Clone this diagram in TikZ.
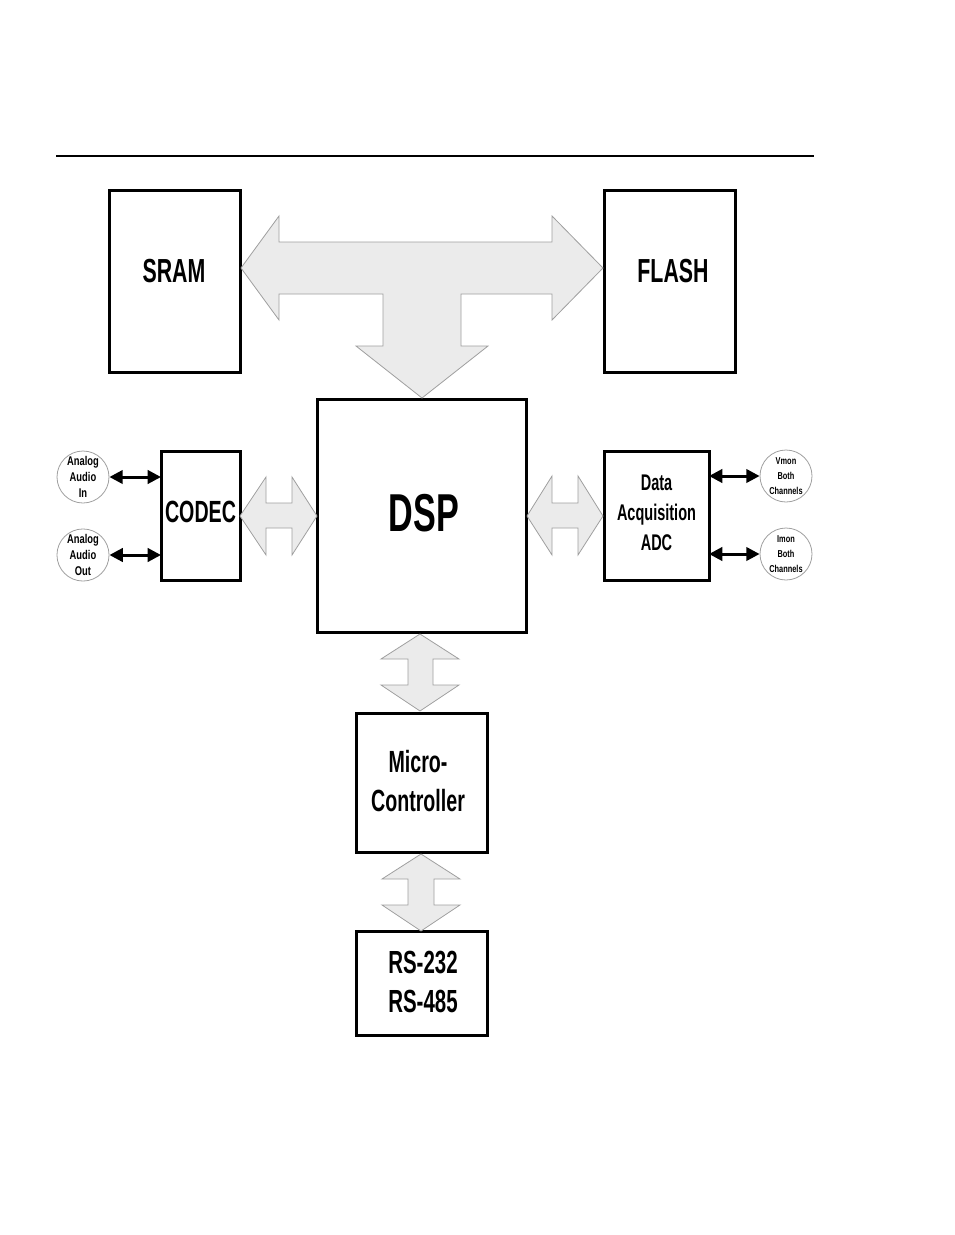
\documentclass[tikz,border=0pt]{standalone}
\usepackage{fontspec}
\usetikzlibrary{arrows.meta,calc}
\newfontfamily\cond{Liberation Sans}[FakeStretch=0.64]
\newfontfamily\condsmall{Liberation Sans}[FakeStretch=0.74]
\begin{document}
\begin{tikzpicture}[x=0.75pt,y=-0.75pt,
  box/.style={draw, line width=2.25pt, rectangle, inner sep=0pt, outer sep=0pt},
  lbl/.style={font=\cond\bfseries, align=center, inner sep=0pt},
  circ/.style={circle, draw=gray!75, line width=0.6pt, minimum size=39pt, inner sep=0pt, align=center},
  garrow/.style={fill=gray!16, draw=gray!75, line width=0.6pt, line join=miter},
  barrow/.style={{Triangle[length=10pt,width=10pt]}-{Triangle[length=10pt,width=10pt]}, line width=2.25pt}
]
\useasboundingbox (0,0) rectangle (954,1235);
% header rule
\coordinate (rl) at (56,156);
\coordinate (rr) at (814,156);
\draw[line width=0.8pt] (rl) -- (rr);

% boxes
\node[box, minimum width=98.25pt, minimum height=136.5pt] (sram) at (174.5,281) {};
\node[box, minimum width=98.25pt, minimum height=136.5pt] (flash) at (669.5,281) {};
\node[box, minimum width=156.75pt, minimum height=174.75pt] (dsp) at (421.5,515.5) {};
\node[box, minimum width=59.25pt, minimum height=96.75pt] (codec) at (200.5,515.5) {};
\node[box, minimum width=78.75pt, minimum height=96.75pt] (adc) at (656.5,515.5) {};
\node[box, minimum width=98.25pt, minimum height=104.25pt] (micro) at (421.5,782.5) {};
\node[box, minimum width=98.25pt, minimum height=78pt] (rs) at (421.5,983) {};

% labels
\node[lbl, font=\cond\bfseries\fontsize{25}{30}\selectfont] (tsram) at (174,271) {SRAM};
\node[lbl, font=\cond\bfseries\fontsize{25}{30}\selectfont] (tflash) at (673,271) {FLASH};
\node[lbl, font=\cond\bfseries\fontsize{40}{48}\selectfont] (tdsp) at (424,513) {DSP};
\node[lbl, font=\cond\bfseries\fontsize{23}{28}\selectfont] (tcodec) at (200.5,512) {CODEC};
\node[lbl, font=\cond\bfseries\fontsize{17}{22.5}\selectfont] (tadc) at (656.5,513) {Data\\Acquisition\\ADC};
\node[lbl, font=\cond\bfseries\fontsize{23}{29}\selectfont] (tmicro) at (418,781) {Micro-\\Controller};
\node[lbl, font=\cond\bfseries\fontsize{24}{29}\selectfont] (trs) at (423,982) {RS-232\\RS-485};

% circles
\node[circ, font=\condsmall\bfseries\fontsize{9.5}{12}\selectfont] (ain) at (83,477) {Analog\\Audio\\In};
\node[circ, font=\condsmall\bfseries\fontsize{9.5}{12}\selectfont] (aout) at (83,555) {Analog\\Audio\\Out};
\node[circ, font=\condsmall\bfseries\fontsize{7.5}{11}\selectfont] (vmon) at (786,476) {Vmon\\Both\\Channels};
\node[circ, font=\condsmall\bfseries\fontsize{7.5}{11}\selectfont] (imon) at (786,554) {Imon\\Both\\Channels};

% black arrows
\draw[barrow] (ain.east) -- (ain.east -| codec.west);
\draw[barrow] (aout.east) -- (aout.east -| codec.west);
\draw[barrow] (vmon.west -| adc.east) -- (vmon.west);
\draw[barrow] (imon.west -| adc.east) -- (imon.west);

% T-shaped bus arrow SRAM / FLASH / DSP
\draw[garrow] (241,268) -- (279,216) -- (279,242) -- (552,242) -- (552,216) -- (603,268)
  -- (552,320) -- (552,294) -- (461,294) -- (461,346) -- (488,346) -- (422,398)
  -- (356,346) -- (383,346) -- (383,294) -- (279,294) -- (279,320) -- cycle;

% CODEC <-> DSP
\draw[garrow] (240,516) -- (266,477) -- (266,503) -- (292,503) -- (292,477) -- (317,516)
  -- (292,555) -- (292,528) -- (266,528) -- (266,555) -- cycle;
% DSP <-> ADC
\draw[garrow] (527,516) -- (552,476) -- (552,503) -- (578,503) -- (578,476) -- (603,516)
  -- (578,555) -- (578,528) -- (552,528) -- (552,555) -- cycle;
% DSP <-> Micro
\draw[garrow] (420,634) -- (459,659) -- (433,659) -- (433,685) -- (459,685) -- (420,711)
  -- (381,685) -- (408,685) -- (408,659) -- (381,659) -- cycle;
% Micro <-> RS
\draw[garrow] (421,854) -- (460,879) -- (434,879) -- (434,905) -- (460,905) -- (421,931)
  -- (382,905) -- (408,905) -- (408,879) -- (382,879) -- cycle;
\end{tikzpicture}
\end{document}
